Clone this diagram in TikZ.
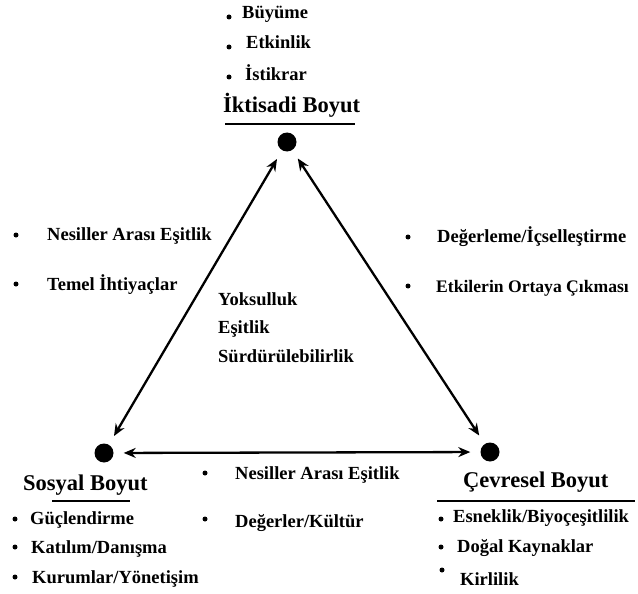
\documentclass[tikz,border=0pt]{standalone}
\usepackage{fontspec}
\setmainfont{Liberation Serif}
\usepackage{tikz}
\usetikzlibrary{arrows.meta,calc,positioning}
\tikzstyle{dot}=[
  circle,
  fill=black,
  inner sep=0pt,
  minimum size=19pt,
]
\tikzstyle{bullet}=[
  circle,
  fill=black,
  inner sep=0pt,
  minimum size=5pt,
]
\tikzstyle{item}=[
  anchor=base west,
  inner sep=0pt,
  font={\fontsize{18.5}{20}\selectfont\bfseries},
]
\tikzstyle{head}=[
  anchor=base west,
  inner sep=0pt,
  font={\fontsize{22.5}{24}\selectfont\bfseries},
]
\tikzstyle{arrow}=[
  draw=black,
  line width=2.3pt,
  shorten >=10pt,
  shorten <=10pt,
]
\tikzstyle{rule}=[
  draw=black,
  line width=2.2pt,
]
\tikzset{
  >={Stealth[length=12pt,width=10pt]},
}
\begin{document}
\begin{tikzpicture}[x=1pt,y=-1pt]
  \useasboundingbox (0,0) rectangle (638,594);
  % corners
  \node (iktisadi) [dot] at (287,142) {};
  \node (sosyal) [dot] at (104,453) {};
  \node (cevresel) [dot] at (490,452) {};
  \draw [<->, arrow] (iktisadi) -- (sosyal);
  \draw [<->, arrow] (iktisadi) -- (cevresel);
  \draw [<->, arrow] (sosyal) -- (cevresel);
  % iktisadi
  \node (buyumeB) [bullet] at (229,17) {};
  \node (etkinlikB) [bullet] at (229,47) {};
  \node (istikrarB) [bullet] at (229,77) {};
  \node (buyume) [item] at (242,19) {Büyüme};
  \node (etkinlik) [item] at (246,49) {Etkinlik};
  \node (istikrar) [item] at (245,81) {İstikrar};
  \node (iktisadiH) [head] at (223,113) {İktisadi Boyut};
  \draw [rule] (225,124) -- (355,124);
  % sosyal - iktisadi
  \node (nesillerLB) [bullet] at (16,235) {};
  \node (temelB) [bullet] at (16,284) {};
  \node (nesillerL) [item] at (47,240) {Nesiller Arası Eşitlik};
  \node (temel) [item] at (47,290) {Temel İhtiyaçlar};
  % iktisadi - cevresel
  \node (degerlemeB) [bullet] at (408,237) {};
  \node (etkilerinB) [bullet] at (408,286) {};
  \node (degerleme) [item] at (437,242) {Değerleme/İçselleştirme};
  \node (etkilerin) [item, font={\fontsize{17.6}{20}\selectfont\bfseries}] at (436,292) {Etkilerin Ortaya Çıkması};
  % center
  \node (yoksulluk) [item] at (218,305) {Yoksulluk};
  \node (esitlik) [item] at (218,333) {Eşitlik};
  \node (surdurulebilirlik) [item] at (218,362) {Sürdürülebilirlik};
  % sosyal - cevresel
  \node (nesillerBB) [bullet] at (205,473) {};
  \node (degerlerB) [bullet] at (205,519) {};
  \node (nesillerB) [item] at (235,479) {Nesiller Arası Eşitlik};
  \node (degerler) [item] at (235,527) {Değerler/Kültür};
  % sosyal
  \node (sosyalH) [head] at (23,490) {Sosyal Boyut};
  \draw [rule] (52,501) -- (130,501);
  \node (guclendirmeB) [bullet] at (15,519) {};
  \node (katilimB) [bullet] at (15,547) {};
  \node (kurumlarB) [bullet] at (15,577) {};
  \node (guclendirme) [item] at (30,524) {Güçlendirme};
  \node (katilim) [item] at (31,553) {Katılım/Danışma};
  \node (kurumlar) [item] at (32,583) {Kurumlar/Yönetişim};
  % cevresel
  \node (cevreselH) [head] at (463,487) {Çevresel Boyut};
  \draw [rule] (437,501) -- (635,501);
  \node (esneklikB) [bullet] at (441,519) {};
  \node (dogalB) [bullet] at (441,547) {};
  \node (kirlilikB) [bullet] at (442,570) {};
  \node (esneklik) [item] at (453,522) {Esneklik/Biyoçeşitlilik};
  \node (dogal) [item] at (457,552) {Doğal Kaynaklar};
  \node (kirlilik) [item] at (460,585) {Kirlilik};
\end{tikzpicture}
\end{document}
